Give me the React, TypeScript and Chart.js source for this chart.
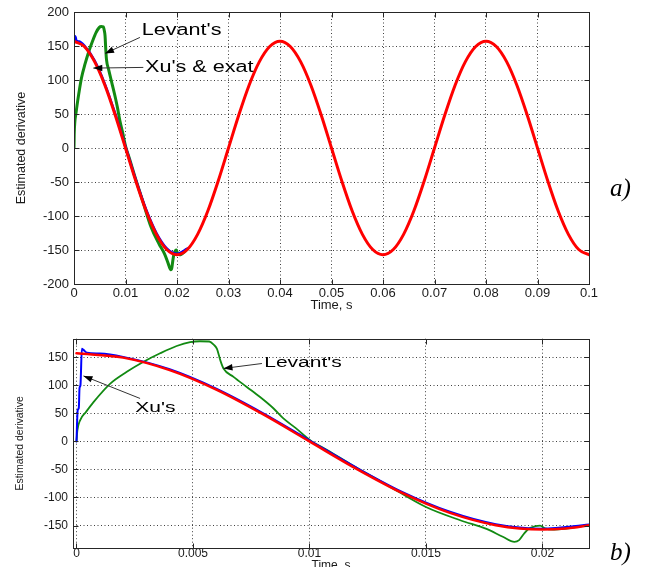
import React, { useEffect, useRef } from "react";
import { Chart, registerables } from "chart.js";

Chart.register(...registerables);

// ---------- data ----------
// exact derivative (red), shared by both panels
const exactTime = [
  0, 0.002, 0.004, 0.006, 0.008, 0.01, 0.012, 0.014, 0.016, 0.018, 0.02,
  0.022, 0.024, 0.026, 0.028, 0.03, 0.032, 0.034, 0.036, 0.038, 0.04,
  0.042, 0.044, 0.046, 0.048, 0.05, 0.052, 0.054, 0.056, 0.058, 0.06,
  0.062, 0.064, 0.066, 0.068, 0.07, 0.072, 0.074, 0.076, 0.078, 0.08,
  0.082, 0.084, 0.086, 0.088, 0.09, 0.092, 0.094, 0.096, 0.098, 0.1,
];
const exactValues = [
  157, 149.3, 127, 92.3, 48.5, 0, -48.5, -92.3, -127, -149.3, -157,
  -149.3, -127, -92.3, -48.5, 0, 48.5, 92.3, 127, 149.3, 157,
  149.3, 127, 92.3, 48.5, 0, -48.5, -92.3, -127, -149.3, -157,
  -149.3, -127, -92.3, -48.5, 0, 48.5, 92.3, 127, 149.3, 157,
  149.3, 127, 92.3, 48.5, 0, -48.5, -92.3, -127, -149.3, -157,
];

// Xu's differentiator (blue), zoomed panel b)
const xuTime = [
  0, 0.00005, 0.0001, 0.00013, 0.00017, 0.00023, 0.0003, 0.00045, 0.001,
  0.002, 0.004, 0.006, 0.008, 0.01, 0.012, 0.014, 0.016, 0.018, 0.02, 0.022,
];
const xuValues = [
  0, 55, 60, 95, 100, 165, 163, 158, 156.5,
  150.5, 128.5, 94, 50.5, 2, -46.5, -90.5, -125, -147.5, -155.5, -148,
];
// Xu's differentiator as it appears in panel a) (coarser record, starts at its peak)
const xuTimeA = [0, 0.0003, 0.00045, 0.001, 0.002, 0.004, 0.006, 0.008, 0.01, 0.012, 0.014, 0.016, 0.018, 0.02, 0.022];
const xuValuesA = [165, 163, 158, 156.5, 150.5, 128.5, 94, 50.5, 2, -46.5, -90.5, -125, -147.5, -155.5, -148];

// Levant's differentiator (green)
const levantTime = [
  0, 0.00004, 0.00016, 0.0004, 0.00073, 0.00145, 0.00216, 0.00288, 0.00359,
  0.0043, 0.00488, 0.0053, 0.0057, 0.0059, 0.00603, 0.00617, 0.00631, 0.00674,
  0.00731, 0.00788, 0.00845, 0.00888, 0.0094, 0.0101, 0.0107, 0.0119, 0.0133,
  0.015, 0.0165, 0.0176, 0.0183, 0.0188, 0.019, 0.0192, 0.0194, 0.0197,
  0.0199, 0.0201, 0.0205, 0.022,
];
const levantValues = [
  0, 20, 38, 52, 70, 103, 124, 142, 157,
  170, 177, 178.5, 178, 172, 165, 145, 130, 115,
  97, 79, 59, 41, 24, 0, -14, -44, -77,
  -117, -141, -156, -170, -179, -176, -165, -156, -151,
  -150, -155, -157, -149,
];

// ticks
const topXTicks = [0, 0.01, 0.02, 0.03, 0.04, 0.05, 0.06, 0.07, 0.08, 0.09, 0.1];
const topXLabels = ["0", "0.01", "0.02", "0.03", "0.04", "0.05", "0.06", "0.07", "0.08", "0.09", "0.1"];
const topYTicks = [-200, -150, -100, -50, 0, 50, 100, 150, 200];
const topYLabels = ["-200", "-150", "-100", "-50", "0", "50", "100", "150", "200"];
const botXTicks = [0, 0.005, 0.01, 0.015, 0.02];
const botXLabels = ["0", "0.005", "0.01", "0.015", "0.02"];
const botYTicks = [-150, -100, -50, 0, 50, 100, 150];
const botYLabels = ["-150", "-100", "-50", "0", "50", "100", "150"];

const xTitle = "Time, s";
const yTitle = "Estimated derivative";

// ---------- helpers ----------
const pts = (xs: number[], ys: number[]) => xs.map((x, i) => ({ x, y: ys[i] }));

const FONT = "'Liberation Sans', Arial, Helvetica, sans-serif";

const framePlugin = {
  id: "frame",
  afterDatasetsDraw(chart: any) {
    const { ctx, chartArea: a, scales } = chart;
    ctx.save();
    ctx.strokeStyle = "#262626";
    ctx.lineWidth = 1;
    const l = Math.round(a.left) + 0.5;
    const r = Math.round(a.right) + 0.5;
    const t = Math.round(a.top) + 0.5;
    const b = Math.round(a.bottom) + 0.5;
    ctx.strokeRect(l, t, r - l, b - t);
    const L = 5;
    ctx.beginPath();
    scales.x.ticks.forEach((tk: any) => {
      const px = Math.round(scales.x.getPixelForValue(tk.value)) + 0.5;
      ctx.moveTo(px, b);
      ctx.lineTo(px, b - L);
      ctx.moveTo(px, t);
      ctx.lineTo(px, t + L);
    });
    scales.y.ticks.forEach((tk: any) => {
      const py = Math.round(scales.y.getPixelForValue(tk.value)) + 0.5;
      ctx.moveTo(l, py);
      ctx.lineTo(l + L, py);
      ctx.moveTo(r, py);
      ctx.lineTo(r - L, py);
    });
    ctx.stroke();
    ctx.restore();
  },
};

const notesPlugin = {
  id: "notes",
  afterDraw(chart: any, _args: any, opts: any) {
    const { ctx, scales } = chart;
    const X = (v: number) => scales.x.getPixelForValue(v);
    const Y = (v: number) => scales.y.getPixelForValue(v);
    ctx.save();
    (opts.arrows || []).forEach((ar: any) => {
      const x0 = X(ar.t0), y0 = Y(ar.v0), x1 = X(ar.t1), y1 = Y(ar.v1);
      ctx.strokeStyle = "#333";
      ctx.lineWidth = 1;
      ctx.beginPath();
      ctx.moveTo(x0, y0);
      ctx.lineTo(x1, y1);
      ctx.stroke();
      const ang = Math.atan2(y1 - y0, x1 - x0);
      const hl = ar.head || 9, hw = ar.hw || 3.2;
      ctx.fillStyle = "#000";
      ctx.beginPath();
      ctx.moveTo(x1, y1);
      ctx.lineTo(x1 - hl * Math.cos(ang) + hw * Math.sin(ang), y1 - hl * Math.sin(ang) - hw * Math.cos(ang));
      ctx.lineTo(x1 - hl * Math.cos(ang) - hw * Math.sin(ang), y1 - hl * Math.sin(ang) + hw * Math.cos(ang));
      ctx.closePath();
      ctx.fill();
    });
    (opts.texts || []).forEach((n: any) => {
      ctx.save();
      ctx.translate(X(n.t), Y(n.v));
      ctx.scale(n.sx || 1, 1);
      ctx.font = n.font;
      ctx.fillStyle = "#000";
      ctx.textAlign = "left";
      ctx.textBaseline = n.baseline || "middle";
      ctx.fillText(n.text, 0, 0);
      ctx.restore();
    });
    ctx.restore();
  },
};

function makeConfig(p: any) {
  return {
    type: "line",
    data: {
      datasets: [
        {
          label: "exact",
          data: pts(exactTime, exactValues),
          borderColor: "#ff0000",
          borderWidth: p.wRed,
          order: 0,
        },
        {
          label: "Xu's",
          data: pts(p.xuT, p.xuV),
          borderColor: "#0000ff",
          borderWidth: p.wBlue,
          order: 1,
        },
        {
          label: "Levant's",
          data: pts(levantTime, levantValues),
          borderColor: "#128a12",
          borderWidth: p.wGreen,
          order: 2,
        },
      ],
    },
    options: {
      responsive: false,
      animation: false,
      events: [],
      layout: { padding: { left: 0, right: p.padRight, top: p.padTop, bottom: 0 } },
      elements: {
        point: { radius: 0 },
        line: { cubicInterpolationMode: "monotone", fill: false, borderJoinStyle: "round", borderCapStyle: "round" },
      },
      plugins: {
        legend: { display: false },
        tooltip: { enabled: false },
        notes: { texts: p.texts, arrows: p.arrows },
      },
      scales: {
        x: {
          type: "linear",
          min: p.xMin,
          max: p.xMax,
          afterBuildTicks: (s: any) => {
            s.ticks = p.xTicks.map((v: number) => ({ value: v }));
          },
          afterFit: (s: any) => {
            s.height = p.xHeight;
            s.paddingLeft = 0;
            s.paddingRight = 0;
          },
          ticks: {
            autoSkip: false,
            maxRotation: 0,
            padding: p.xTickPad,
            color: "#1a1a1a",
            font: { family: FONT, size: p.tickSize, lineHeight: 1 },
            callback: (_v: any, i: number) => p.xLabels[i],
          },
          grid: { color: "rgba(0,0,0,0.75)", lineWidth: 1, drawTicks: false },
          border: { display: false, dash: [1, 2.5] },
          title: {
            display: true,
            text: xTitle,
            color: "#1a1a1a",
            font: { family: FONT, size: p.xTitleSize },
            padding: { top: 0, bottom: p.xTitlePad },
          },
        },
        y: {
          type: "linear",
          min: p.yMin,
          max: p.yMax,
          afterBuildTicks: (s: any) => {
            s.ticks = p.yTicks.map((v: number) => ({ value: v }));
          },
          afterFit: (s: any) => {
            s.width = p.yWidth;
            s.paddingTop = 0;
            s.paddingBottom = 0;
          },
          ticks: {
            autoSkip: false,
            padding: p.yTickPad,
            color: "#1a1a1a",
            font: { family: FONT, size: p.tickSize },
            callback: (_v: any, i: number) => p.yLabels[i],
          },
          grid: { color: "rgba(0,0,0,0.75)", lineWidth: 1, drawTicks: false },
          border: { display: false, dash: [1, 2.5] },
          title: {
            display: true,
            text: yTitle,
            color: "#1a1a1a",
            font: { family: FONT, size: p.yTitleSize },
            padding: { top: p.yTitlePad, bottom: 0 },
          },
        },
      },
    },
    plugins: [framePlugin, notesPlugin],
  } as any;
}

export default function App() {
  const topRef = useRef<HTMLCanvasElement>(null);
  const botRef = useRef<HTMLCanvasElement>(null);

  useEffect(() => {
    const top = new Chart(
      topRef.current!,
      makeConfig({
        xMin: 0, xMax: 0.1, yMin: -200, yMax: 200,
        xTicks: topXTicks, xLabels: topXLabels, yTicks: topYTicks, yLabels: topYLabels,
        xuT: xuTimeA, xuV: xuValuesA,
        padTop: 12, padRight: 60, yWidth: 74, xHeight: 31,
        tickSize: 13, xTickPad: 3, yTickPad: 5,
        xTitleSize: 13, xTitlePad: 2, yTitleSize: 12.5, yTitlePad: 14,
        wRed: 3, wBlue: 2.5, wGreen: 3,
        texts: [
          { text: "Levant's", t: 0.01315, v: 172.5, font: `16px ${FONT}`, sx: 1.35 },
          { text: "Xu's & exat", t: 0.01379, v: 118.5, font: `16px ${FONT}`, sx: 1.35 },
          { text: "a)", t: 0.1041, v: -70, font: "italic 25px 'Liberation Serif', 'Times New Roman', serif", sx: 1, baseline: "alphabetic" },
        ],
        arrows: [
          { t0: 0.0128, v0: 162.6, t1: 0.00602, v1: 139 },
          { t0: 0.01346, v0: 118.5, t1: 0.00375, v1: 117.5 },
        ],
      })
    );
    const bot = new Chart(
      botRef.current!,
      makeConfig({
        xMin: -0.00015, xMax: 0.022, yMin: -190, yMax: 183,
        xTicks: botXTicks, xLabels: botXLabels, yTicks: botYTicks, yLabels: botYLabels,
        xuT: xuTime, xuV: xuValues,
        padTop: 20.7, padRight: 60, yWidth: 73, xHeight: 32,
        tickSize: 12, xTickPad: 0, yTickPad: 5,
        xTitleSize: 12, xTitlePad: 7, yTitleSize: 10.5, yTitlePad: 13.5,
        wRed: 2.5, wBlue: 2, wGreen: 1.8,
        texts: [
          { text: "Levant's", t: 0.00806, v: 138.8, font: `14px ${FONT}`, sx: 1.5 },
          { text: "Xu's", t: 0.00252, v: 58.7, font: `14px ${FONT}`, sx: 1.5 },
          { text: "b)", t: 0.0229, v: -212, font: "italic 25px 'Liberation Serif', 'Times New Roman', serif", sx: 1, baseline: "alphabetic" },
        ],
        arrows: [
          { t0: 0.00796, v0: 138.8, t1: 0.00631, v1: 130 },
          { t0: 0.00273, v0: 76.5, t1: 0.0003, v1: 116.7 },
        ],
      })
    );
    return () => {
      top.destroy();
      bot.destroy();
    };
  }, []);

  return (
    <div
      style={{
        position: "absolute",
        left: 0,
        top: 0,
        width: 649,
        height: 567,
        overflow: "hidden",
        background: "#fff",
      }}
    >
      <canvas ref={topRef} width={649} height={315} style={{ position: "absolute", left: 0, top: 0, width: 649, height: 315 }} />
      <canvas ref={botRef} width={649} height={262} style={{ position: "absolute", left: 0, top: 318, width: 649, height: 262 }} />
    </div>
  );
}
